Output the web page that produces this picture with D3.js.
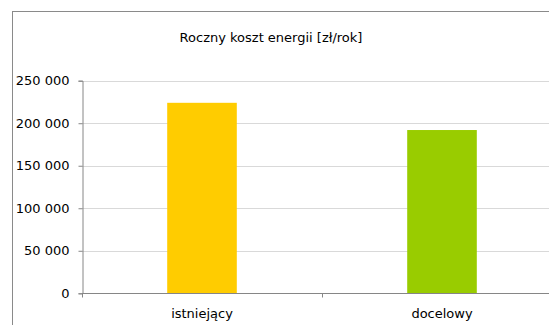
<!DOCTYPE html>
<html>
<head>
<meta charset="utf-8">
<script src="https://cdn.jsdelivr.net/npm/d3@7"></script>
<style>
  html, body { margin: 0; padding: 0; background: #fff; }
  svg { display: block; }
  text { font-family: "DejaVu Sans", Verdana, sans-serif; fill: #000; }
</style>
</head>
<body>
<svg id="chart" width="549" height="325"></svg>
<script>
// Annual energy cost for the existing and target variants
const categories = ["istniejący", "docelowy"];
const values = [224000, 192000];
const colors = ["#FFCC00", "#99CC00"];
const yTicks = [0, 50000, 100000, 150000, 200000, 250000];
const title = "Roczny koszt energii [zł/rok]";

const svg = d3.select("#chart");
const W = 549, H = 325;

// Chart area frame (extends past the right and bottom edges)
svg.append("rect")
  .attr("x", 12.5).attr("y", 11.5)
  .attr("width", 600).attr("height", 400)
  .attr("fill", "#fff")
  .attr("stroke", "#8a8a8a").attr("stroke-width", 1);

const plot = { left: 82, right: 562, top: 80.7, bottom: 293.3 };

const x = d3.scaleBand()
  .domain(categories)
  .range([plot.left, plot.right])
  .paddingInner(0.71).paddingOuter(0.355);

const y = d3.scaleLinear()
  .domain([0, 250000])
  .range([plot.bottom, plot.top]);

const fmt = v => d3.format(",")(v).replace(/,/g, " ");

// Horizontal gridlines
svg.append("g")
  .selectAll("line")
  .data(yTicks.filter(t => t > 0))
  .join("line")
  .attr("x1", plot.left).attr("x2", W + 20)
  .attr("y1", d => Math.round(y(d)) + 0.5)
  .attr("y2", d => Math.round(y(d)) + 0.5)
  .attr("stroke", "#d9d9d9").attr("stroke-width", 1);

// Bars
svg.append("g")
  .selectAll("rect")
  .data(values)
  .join("rect")
  .attr("x", (d, i) => x(categories[i]))
  .attr("width", x.bandwidth())
  .attr("y", d => y(d))
  .attr("height", d => y(0) - y(d))
  .attr("fill", (d, i) => colors[i]);

// Y axis
const yAxis = svg.append("g")
  .attr("transform", `translate(${plot.left + 0.5},0)`)
  .call(d3.axisLeft(y).tickValues(yTicks).tickFormat(fmt).tickSize(4).tickPadding(9));
yAxis.select(".domain").attr("stroke", "#868686");
yAxis.selectAll(".tick line").attr("stroke", "#868686");
yAxis.selectAll(".tick text")
  .attr("font-size", 13)
  .attr("font-family", "DejaVu Sans, Verdana, sans-serif")
  .attr("fill", "#000");

// X axis with tick marks at category boundaries
const step = x.step();
const bounds = [plot.left, plot.left + (plot.right - plot.left) / 2, plot.right];
const xg = svg.append("g").attr("transform", `translate(0,${Math.round(plot.bottom) + 0.5})`);
xg.append("line")
  .attr("x1", plot.left).attr("x2", W + 20)
  .attr("stroke", "#868686");
xg.selectAll("line.tk")
  .data(bounds)
  .join("line").attr("class", "tk")
  .attr("x1", d => Math.round(d) + 0.5).attr("x2", d => Math.round(d) + 0.5)
  .attr("y1", 0).attr("y2", 4)
  .attr("stroke", "#868686");
xg.selectAll("text")
  .data(categories)
  .join("text")
  .attr("x", d => x(d) + x.bandwidth() / 2)
  .attr("y", 24)
  .attr("text-anchor", "middle")
  .attr("font-size", 13)
  .text(d => d);

// Title
svg.append("text")
  .attr("x", 271).attr("y", 42)
  .attr("text-anchor", "middle")
  .attr("font-size", 13)
  .text(title);
</script>
</body>
</html>
